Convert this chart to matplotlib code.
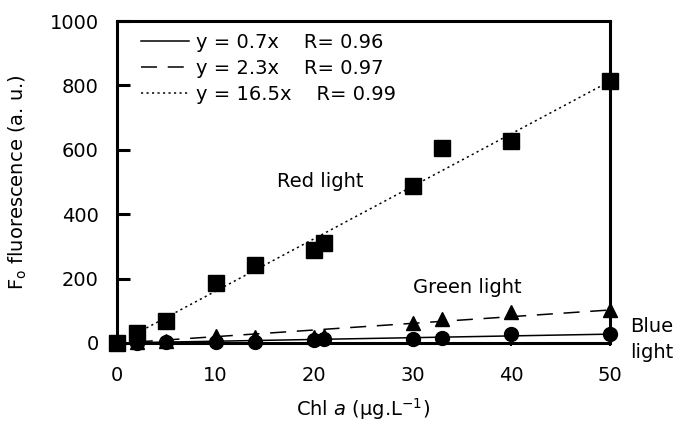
import numpy as np
import matplotlib
matplotlib.use('Agg')
import matplotlib.pyplot as plt

plt.rcParams['font.family'] = ['DejaVu Sans']
plt.rcParams['mathtext.fontset'] = 'dejavusans'

# data
chl = [0, 2, 5, 10, 14, 20, 21, 30, 33, 40, 50]
red = [0, 30, 69, 186, 241, 290, 310, 488, 605, 628, 814]
green = [0, 3, 6, 22, 20, 18, 22, 62, 75, 95, 103]
blue = [0, 0, 3, 3, 3, 10, 12, 13, 16, 29, 28]

# fitted lines (as drawn) and legend text
fit_slope = [0.55, 2.07, 16.3]
fit_icpt = [0, -1, -2]
fit_start = [0, 2, 2]
leg_slope = ['0.7', '2.3', '16.5']
leg_r = ['0.96', '0.97', '0.99']

fs = 14
fig = plt.figure(figsize=(6.86, 4.34), dpi=100)
ax = fig.add_axes([0.1706, 0.2097, 0.7186, 0.7419])

styles = [dict(ls='-'), dict(ls=(0, (10.5, 7))), dict(ls=(0, (1.4, 2.2)))]
handles = []
for m, b, x0, st, s, r in zip(fit_slope, fit_icpt, fit_start, styles, leg_slope, leg_r):
    xx = np.array([x0, 50])
    h, = ax.plot(xx, m * xx + b, color='black', lw=1.1, **st,
                 label='y = %sx    R= %s' % (s, r))
    handles.append(h)

ax.plot(chl, red, 's', color='black', ms=11, clip_on=False, zorder=5)
ax.plot(chl, green, '^', color='black', ms=10, clip_on=False, zorder=5)
ax.plot(chl, blue, 'o', color='black', ms=10, clip_on=False, zorder=6)

ax.set_xlim(0, 50)
ax.set_ylim(0, 1000)
ax.set_xticks([0, 10, 20, 30, 40, 50])
ax.set_yticks([0, 200, 400, 600, 800, 1000])
for sp in ax.spines.values():
    sp.set_linewidth(2.2)
ax.tick_params(axis='y', direction='in', length=9.5, width=2.2, pad=13, labelsize=fs)
ax.tick_params(axis='x', direction='out', length=2.5, width=1.5, pad=14, labelsize=fs)

ax.set_xlabel(r'Chl $\mathit{a}$ ($\mathregular{\mu}$g.L$^{\mathregular{-1}}$)', fontsize=fs, labelpad=8)
ax.set_ylabel(r'F$_\mathregular{o}$ fluorescence (a. u.)', fontsize=fs, labelpad=15)

ax.text(20.6, 503, 'Red light', ha='center', va='center', fontsize=fs)
ax.text(35.5, 171, 'Green light', ha='center', va='center', fontsize=fs)
ax.text(52.0, 10, 'Blue\nlight', ha='left', va='center', fontsize=fs,
        linespacing=1.45, clip_on=False)

ax.legend(handles=handles, loc='upper left', frameon=False, fontsize=fs,
          handlelength=2.45, handletextpad=0.4, labelspacing=0.36,
          borderaxespad=0.2, bbox_to_anchor=(0.025, 1.0))

fig.savefig('out.png', dpi=100)
